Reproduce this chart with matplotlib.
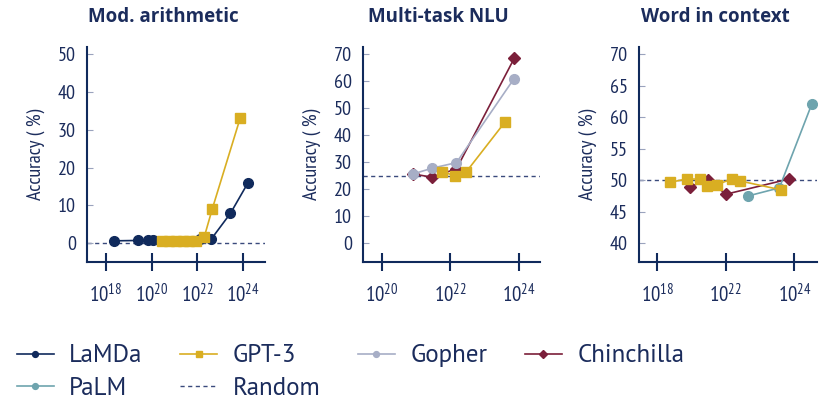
import matplotlib.pyplot as plt
import numpy as np
from matplotlib.ticker import FixedLocator, FixedFormatter

plt.rcParams['font.family'] = ['PT Sans Narrow', 'DejaVu Sans']
plt.rcParams['mathtext.fontset'] = 'custom'
plt.rcParams['mathtext.rm'] = 'PT Sans Narrow'
plt.rcParams['mathtext.it'] = 'PT Sans Narrow'
plt.rcParams['mathtext.bf'] = 'PT Sans Narrow'

# ---- data (x given as log10 of training FLOPs) ----
arith_lamda_x = [18.35, 19.4, 19.84, 20.06, 22.1, 22.6, 23.45, 24.2]
arith_lamda_y = [0.6, 0.7, 0.7, 0.7, 1.2, 1.0, 7.9, 15.8]
arith_gpt3_x = [20.45, 20.75, 21.05, 21.35, 21.65, 21.95, 22.3, 22.65, 23.88]
arith_gpt3_y = [0.6, 0.6, 0.6, 0.6, 0.6, 0.6, 1.6, 9.0, 33.2]

nlu_gpt3_x = [21.77, 22.14, 22.46, 23.59]
nlu_gpt3_y = [26.3, 25.0, 26.3, 44.8]
nlu_gopher_x = [20.92, 21.46, 22.18, 23.85]
nlu_gopher_y = [25.6, 27.7, 29.8, 60.8]
nlu_chin_x = [20.92, 21.46, 22.18, 23.86]
nlu_chin_y = [25.6, 24.4, 27.5, 68.4]

wic_gpt3_x = [20.38, 20.85, 21.24, 21.45, 21.73, 22.17, 22.41, 23.6]
wic_gpt3_y = [49.7, 50.2, 50.2, 49.1, 49.3, 50.2, 49.9, 48.5]
wic_chin_x = [20.95, 21.48, 22.0, 23.84]
wic_chin_y = [49.0, 50.05, 47.8, 50.2]
wic_palm_x = [22.63, 23.56, 24.51]
wic_palm_y = [47.5, 48.8, 62.1]

random_level = [0, 25, 50]
titles = ['Mod. arithmetic', 'Multi-task NLU', 'Word in context']
yticks = [[0, 10, 20, 30, 40, 50], [0, 10, 20, 30, 40, 50, 60, 70], [40, 45, 50, 55, 60, 65, 70]]
ylims = [(-5, 51.9), (-7, 72.6), (37.07, 71.1)]
xlims = [(17.17, 24.96), (19.46, 24.61), (19.46, 24.66)]
xtick_pos = [[18, 20, 22, 24], [20, 22, 24], [20, 22, 24]]
xtick_lab = [['18', '20', '22', '24'], ['20', '22', '24'], ['18', '22', '24']]

navy = '#102a5c'
gold = '#d9ae22'
gray = '#a7aec6'
red = '#7b1f3a'
teal = '#6ea4ae'
rnd = '#3a4a7c'
txt = '#1b2c5c'

fig = plt.figure(figsize=(8.21, 4.03), dpi=100)
lefts = [87, 363, 639]
widths = [178, 177, 178]
axes = [fig.add_axes([l / 821, (403 - 262) / 403, w / 821, 215 / 403]) for l, w in zip(lefts, widths)]

def to_x(v):
    return 10 ** np.array(v)

handles = {}
ax = axes[0]
handles['LaMDa'], = ax.plot(to_x(arith_lamda_x), arith_lamda_y, color=navy, marker='o', ms=7, lw=1.2)
handles['GPT-3'], = ax.plot(to_x(arith_gpt3_x), arith_gpt3_y, color=gold, marker='s', ms=7, lw=1.2)

ax = axes[1]
ax.plot(to_x(nlu_gpt3_x), nlu_gpt3_y, color=gold, marker='s', ms=7, lw=1.2, zorder=3)
handles['Gopher'], = ax.plot(to_x(nlu_gopher_x), nlu_gopher_y, color=gray, marker='o', ms=7, lw=1.2, zorder=2)
handles['Chinchilla'], = ax.plot(to_x(nlu_chin_x), nlu_chin_y, color=red, marker='D', ms=6.5, lw=1.2, zorder=1)

ax = axes[2]
ax.plot(to_x(wic_chin_x), wic_chin_y, color=red, marker='D', ms=6.5, lw=1.2, zorder=2)
ax.plot(to_x(wic_gpt3_x), wic_gpt3_y, color=gold, marker='s', ms=7, lw=1.2, zorder=3)
handles['PaLM'], = ax.plot(to_x(wic_palm_x), wic_palm_y, color=teal, marker='o', ms=7, lw=1.2, zorder=2)

for i, ax in enumerate(axes):
    ax.set_xscale('log')
    line = ax.axhline(random_level[i], color=rnd, ls=(0, (3, 2.5)), lw=1, zorder=0)
    if i == 0:
        handles['Random'] = line
    ax.set_xlim(10 ** xlims[i][0], 10 ** xlims[i][1])
    ax.set_ylim(*ylims[i])
    ax.xaxis.set_major_locator(FixedLocator([10.0 ** p for p in xtick_pos[i]]))
    ax.xaxis.set_major_formatter(FixedFormatter(['$10^{%s}$' % s for s in xtick_lab[i]]))
    ax.xaxis.set_minor_locator(FixedLocator([]))
    ax.set_yticks(yticks[i])
    for s in ['top', 'right']:
        ax.spines[s].set_visible(False)
    for s in ['left', 'bottom']:
        ax.spines[s].set_color(navy)
        ax.spines[s].set_linewidth(1.5)
    ax.tick_params(axis='x', direction='inout', length=13, width=1.5, color=navy,
                   labelsize=15, labelcolor=txt, pad=9)
    ax.tick_params(axis='y', direction='in', length=4, width=0.8, color='#9aa3bd',
                   labelsize=14.5, labelcolor=txt, pad=8)
    ax.set_ylabel('Accuracy ( %)', fontsize=14.5, color=txt, labelpad=9)
    ax.text(0.427, 1.115, titles[i], transform=ax.transAxes, ha='center', va='baseline',
            fontsize=13.5, fontweight='bold', color=txt, family=['Open Sans', 'DejaVu Sans'])

# column-major fill for ncol=4 -> rows: LaMDa GPT-3 Gopher Chinchilla / PaLM Random
order = ['LaMDa', 'PaLM', 'GPT-3', 'Random', 'Gopher', 'Chinchilla']
leg = fig.legend([handles[k] for k in order], order, ncol=4, loc='upper left',
                 bbox_to_anchor=(0.008, 0.17), frameon=False,
                 prop={'family': ['PT Sans', 'DejaVu Sans'], 'size': 18},
                 handlelength=1.5, handletextpad=0.6, columnspacing=1.5,
                 labelspacing=0.38, markerscale=0.6, borderaxespad=0)
for t in leg.get_texts():
    t.set_color(txt)

plt.savefig('out.png', dpi=100)
